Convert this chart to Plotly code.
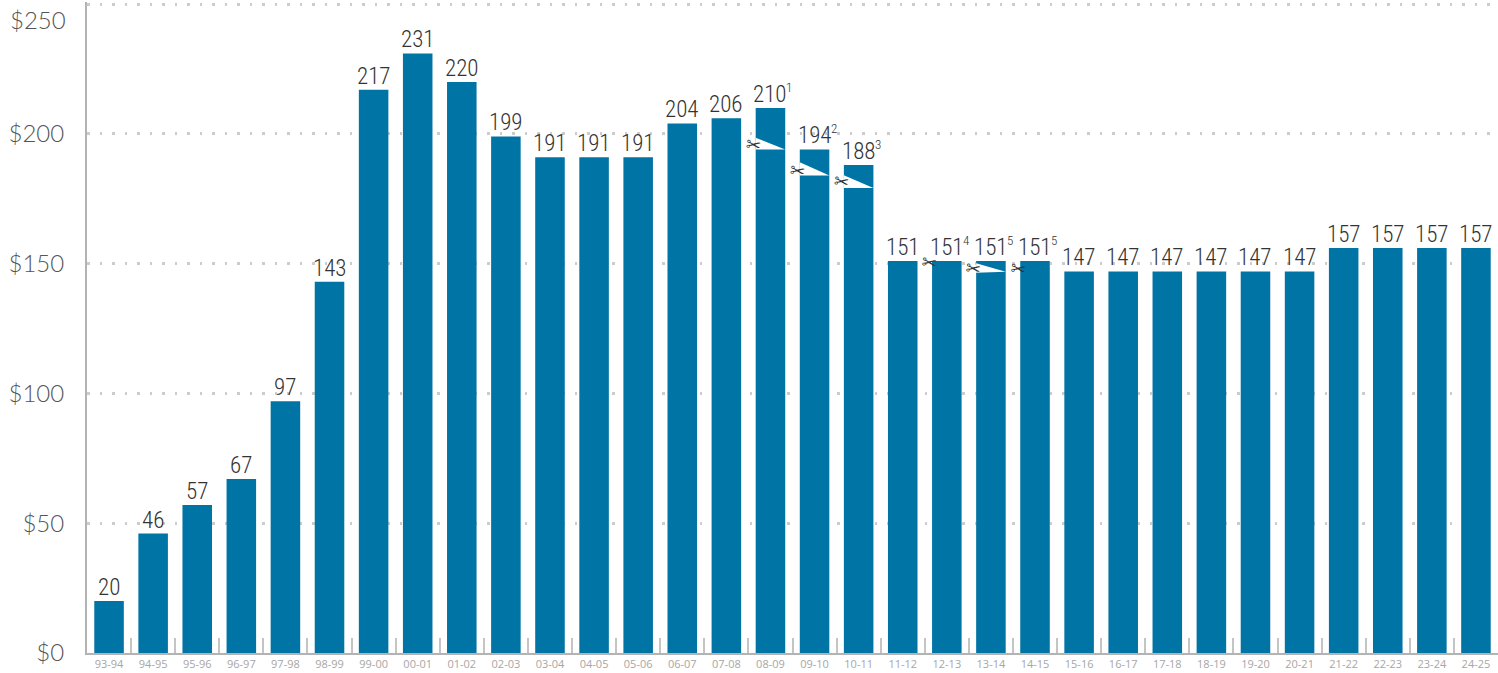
import plotly.graph_objects as go

years = ["93-94","94-95","95-96","96-97","97-98","98-99","99-00","00-01","01-02","02-03","03-04",
         "04-05","05-06","06-07","07-08","08-09","09-10","10-11","11-12","12-13","13-14","14-15",
         "15-16","16-17","17-18","18-19","19-20","20-21","21-22","22-23","23-24","24-25"]
bar_values = [20,46,57,67,97,143,217,231,220,199,191,191,191,204,206,210,194,188,151,151,151,151,
              147,147,147,147,147,147,156,156,156,156]
bar_labels = ["20","46","57","67","97","143","217","231","220","199","191","191","191","204","206",
              "210","194","188","151","151","151","151",
              "147","147","147","147","147","147","157","157","157","157"]
footnote_index = [15,16,17,19,20,21]
footnote_marks = ["1","2","3","4","5","5"]
y_ticks = [0,50,100,150,200,250]
y_tick_labels = ["$0","$50","$100","$150","$200",""]
top_label = "$250"

# wedge cut out of the bars: bar index, value at the wedge's upper-left, value at its bottom
wedge_index = [15,16,17,20]
wedge_upper = [198.5,189.1,184.1,150.2]
wedge_lower = [194.0,184.0,179.1,146.5]
wedge_right = [194.0,184.0,179.1,146.9]

scissor_index = [15,16,17,19,20,21]
scissor_value = [195.8,186.0,181.6,150.6,148.3,148.3]

BLUE = "#0074a5"
BAR_HALF = 0.335

fig = go.Figure()
idx = list(range(len(years)))
fig.add_trace(go.Bar(x=idx, y=bar_values,
                     marker=dict(color=BLUE, line=dict(width=0)),
                     hoverinfo="skip", showlegend=False))
for i, u, l, r in zip(wedge_index, wedge_upper, wedge_lower, wedge_right):
    fig.add_trace(go.Scatter(x=[i-BAR_HALF, i+BAR_HALF, i-BAR_HALF, i-BAR_HALF], y=[u, r, l, u],
                             mode="lines", fill="toself", fillcolor="white",
                             line=dict(width=0, color="white"), hoverinfo="skip", showlegend=False))

annotations = [dict(x=0, xref="paper", y=y_ticks[-1], yref="y", text=top_label, showarrow=False,
                    xanchor="right", xshift=-19, yshift=-15,
                    font=dict(family="Lato", size=24, color="#555555", weight=300))]
for i, (v, t) in enumerate(zip(bar_values, bar_labels)):
    annotations.append(dict(x=i, xref="x", y=v, yref="y", text=t, showarrow=False,
                            xanchor="center", yanchor="bottom", yshift=-2,
                            font=dict(family="Roboto Condensed", size=23, color="#333333", weight=300)))
for i, m in zip(footnote_index, footnote_marks):
    annotations.append(dict(x=i, xref="x", y=bar_values[i], yref="y", text=m, showarrow=False,
                            xanchor="left", yanchor="bottom", xshift=14, yshift=11,
                            font=dict(family="Roboto Condensed", size=13, color="#333333", weight=300)))
for i, v in zip(scissor_index, scissor_value):
    annotations.append(dict(x=i, xref="x", y=v, yref="y", text="\u2702", showarrow=False, xshift=-17,
                            textangle=8, font=dict(family="DejaVu Sans", size=18, color="#333333")))

fig.update_layout(
    width=1498, height=673, margin=dict(l=87, r=0, t=2, b=20),
    paper_bgcolor="white", plot_bgcolor="white", bargap=0.33, showlegend=False,
    annotations=annotations,
    xaxis=dict(range=[-0.5, 31.5], tickmode="array", tickvals=idx, ticktext=years, ticks="",
               showgrid=False, zeroline=False, showline=True, linecolor="#b3b3b3", linewidth=2,
               tickfont=dict(family="Open Sans", size=11, color="#a6a6a6"),
               minor=dict(tickmode="array", tickvals=[i+0.5 for i in idx[:-1]], ticks="inside",
                          ticklen=15, tickwidth=2, tickcolor="#c4c4c4", showgrid=False)),
    yaxis=dict(range=[0, 250.8], tickmode="array", tickvals=y_ticks, ticktext=y_tick_labels,
               showgrid=True, gridcolor="#cccccc", gridwidth=2.5, griddash="2.5px,10px", zeroline=False,
               showline=True, linecolor="#b3b3b3", linewidth=2, ticks="", ticklabelstandoff=16,
               tickfont=dict(family="Lato", size=24, color="#555555", weight=300)),
)
fig.write_html("out.html", config=dict(displayModeBar=False),
               post_script="document.body.style.margin='0';")
